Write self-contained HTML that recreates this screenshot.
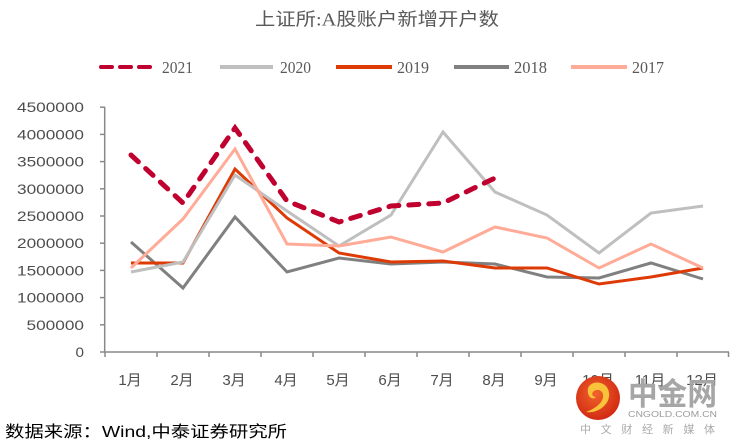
<!DOCTYPE html>
<html>
<head>
<meta charset="utf-8">
<style>
html,body{margin:0;padding:0;background:#fff;}
svg{display:block;}
</style>
</head>
<body>
<svg width="733" height="446" viewBox="0 0 733 446" xmlns="http://www.w3.org/2000/svg">
<rect width="733" height="446" fill="#fff"/>
<!-- Title -->
<text x="255" y="25.5" font-family="'Liberation Serif','Noto Sans CJK SC',serif" font-size="18" fill="#595959" textLength="244" lengthAdjust="spacingAndGlyphs">上证所:A股账户新增开户数</text>

<!-- Legend -->
<g stroke-width="4" stroke-linecap="round" fill="none">
  <line x1="101" y1="67" x2="151" y2="67" stroke="#c0002f" stroke-dasharray="11 8"/>
  <line x1="220" y1="67" x2="273" y2="67" stroke="#bfbfbf" stroke-linecap="butt"/>
  <line x1="336" y1="67" x2="392" y2="67" stroke="#de3a06" stroke-linecap="butt"/>
  <line x1="454" y1="67" x2="509" y2="67" stroke="#808080" stroke-linecap="butt"/>
  <line x1="571" y1="67" x2="627" y2="67" stroke="#ffab97" stroke-linecap="butt"/>
</g>
<g font-family="'Liberation Serif',serif" font-size="17" fill="#595959">
  <text x="162" y="73" textLength="31" lengthAdjust="spacingAndGlyphs">2021</text>
  <text x="280" y="73" textLength="31" lengthAdjust="spacingAndGlyphs">2020</text>
  <text x="397" y="73" textLength="32" lengthAdjust="spacingAndGlyphs">2019</text>
  <text x="514" y="73" textLength="33" lengthAdjust="spacingAndGlyphs">2018</text>
  <text x="632" y="73" textLength="32" lengthAdjust="spacingAndGlyphs">2017</text>
</g>

<!-- Axes -->
<g stroke="#898989" stroke-width="1.5" fill="none">
  <line x1="104.7" y1="107" x2="104.7" y2="352"/>
  <line x1="104" y1="352" x2="729" y2="352"/>
  <!-- y ticks -->
  <line x1="100" y1="107.2" x2="105" y2="107.2"/>
  <line x1="100" y1="134.4" x2="105" y2="134.4"/>
  <line x1="100" y1="161.6" x2="105" y2="161.6"/>
  <line x1="100" y1="188.8" x2="105" y2="188.8"/>
  <line x1="100" y1="216" x2="105" y2="216"/>
  <line x1="100" y1="243.2" x2="105" y2="243.2"/>
  <line x1="100" y1="270.4" x2="105" y2="270.4"/>
  <line x1="100" y1="297.6" x2="105" y2="297.6"/>
  <line x1="100" y1="324.8" x2="105" y2="324.8"/>
  <line x1="100" y1="352" x2="105" y2="352"/>
  <!-- x ticks -->
  <line x1="105" y1="352" x2="105" y2="357"/>
  <line x1="157" y1="352" x2="157" y2="357"/>
  <line x1="209" y1="352" x2="209" y2="357"/>
  <line x1="261" y1="352" x2="261" y2="357"/>
  <line x1="313" y1="352" x2="313" y2="357"/>
  <line x1="365" y1="352" x2="365" y2="357"/>
  <line x1="417" y1="352" x2="417" y2="357"/>
  <line x1="469" y1="352" x2="469" y2="357"/>
  <line x1="521" y1="352" x2="521" y2="357"/>
  <line x1="573" y1="352" x2="573" y2="357"/>
  <line x1="625" y1="352" x2="625" y2="357"/>
  <line x1="677" y1="352" x2="677" y2="357"/>
  <line x1="728.5" y1="352" x2="728.5" y2="357"/>
</g>

<!-- Y labels -->
<g font-family="'Liberation Sans',sans-serif" font-size="14" fill="#4d4d4d" text-anchor="end">
  <text x="84" y="112.2" textLength="67" lengthAdjust="spacingAndGlyphs">4500000</text>
  <text x="84" y="139.4" textLength="67" lengthAdjust="spacingAndGlyphs">4000000</text>
  <text x="84" y="166.6" textLength="67" lengthAdjust="spacingAndGlyphs">3500000</text>
  <text x="84" y="193.8" textLength="67" lengthAdjust="spacingAndGlyphs">3000000</text>
  <text x="84" y="221" textLength="67" lengthAdjust="spacingAndGlyphs">2500000</text>
  <text x="84" y="248.2" textLength="67" lengthAdjust="spacingAndGlyphs">2000000</text>
  <text x="84" y="275.4" textLength="67" lengthAdjust="spacingAndGlyphs">1500000</text>
  <text x="84" y="302.6" textLength="67" lengthAdjust="spacingAndGlyphs">1000000</text>
  <text x="84" y="329.8" textLength="57.5" lengthAdjust="spacingAndGlyphs">500000</text>
  <text x="84" y="357" textLength="8.5" lengthAdjust="spacingAndGlyphs">0</text>
</g>

<!-- X labels -->
<g font-family="'Liberation Sans','Noto Sans CJK SC',sans-serif" font-size="15" fill="#4d4d4d" text-anchor="middle">
  <text x="130" y="385">1月</text>
  <text x="182" y="385">2月</text>
  <text x="234" y="385">3月</text>
  <text x="286" y="385">4月</text>
  <text x="338" y="385">5月</text>
  <text x="390" y="385">6月</text>
  <text x="442" y="385">7月</text>
  <text x="494" y="385">8月</text>
  <text x="546" y="385">9月</text>
  <text x="598" y="385">10月</text>
  <text x="650" y="385">11月</text>
  <text x="702" y="385">12月</text>
</g>

<!-- Series -->
<g fill="none" stroke-linejoin="miter">
  <!-- 2018 -->
  <polyline stroke="#808080" stroke-width="3" points="131,242 183,288 235,217 287,272 339,258 391,264 443,262 495,264 547,277 599,278 651,263 703,279"/>
  <!-- 2019 -->
  <polyline stroke="#de3a06" stroke-width="3" points="131,263 183,263 235,169 287,218 339,253 391,262 443,261 495,268 547,268 599,284 651,277 703,268"/>
  <!-- 2020 -->
  <polyline stroke="#bfbfbf" stroke-width="3" points="131,272 183,262 235,175 287,211 339,246 391,215 443,132 495,192 547,215 599,253 651,213 703,206"/>
  <!-- 2017 -->
  <polyline stroke="#ffab97" stroke-width="3" points="131,268 183,219 235,149 287,244 339,246 391,237 443,252 495,227 547,238 599,268 651,244 703,268"/>
  <!-- 2021 -->
  <polyline stroke="#c0002f" stroke-width="5" stroke-linecap="round" stroke-dasharray="10 10" points="131,155 183,203 235,128 287,201 339,222 391,206 443,203 495,178"/>
</g>

<!-- Source -->
<text x="5" y="437" font-family="'Liberation Sans','Noto Sans CJK SC',sans-serif" font-size="16" fill="#000" textLength="282" lengthAdjust="spacingAndGlyphs">数据来源：Wind,中泰证券研究所</text>

<!-- Watermark -->
<defs>
  <radialGradient id="lg" cx="45%" cy="40%" r="60%">
    <stop offset="0" stop-color="#f0642a"/>
    <stop offset="1" stop-color="#d22a14"/>
  </radialGradient>
</defs>
<circle cx="598" cy="398" r="22" fill="url(#lg)"/>
<path d="M588,393 C586,384 596,380 603,384 C611,388 611,400 604,406 C599,411 592,413 586,412 C594,409 602,404 603,397 C604,391 598,388 594,391 C591,393 592,397 596,397 C593,400 589,398 588,393 Z" fill="#f8c23a"/>
<text x="628" y="405" font-family="'Noto Sans CJK SC',sans-serif" font-weight="bold" font-size="31" fill="#a6a6a6" textLength="89" lengthAdjust="spacingAndGlyphs">中金网</text>
<text x="628" y="417" font-family="'Liberation Sans',sans-serif" font-size="8" fill="#9a9a9a" textLength="89" lengthAdjust="spacingAndGlyphs">CNGOLD.COM.CN</text>
<text x="580" y="433" font-family="'Noto Sans CJK SC',sans-serif" font-size="11" fill="#ababab" textLength="135" lengthAdjust="spacing">中文财经新媒体</text>
</svg>
</body>
</html>
